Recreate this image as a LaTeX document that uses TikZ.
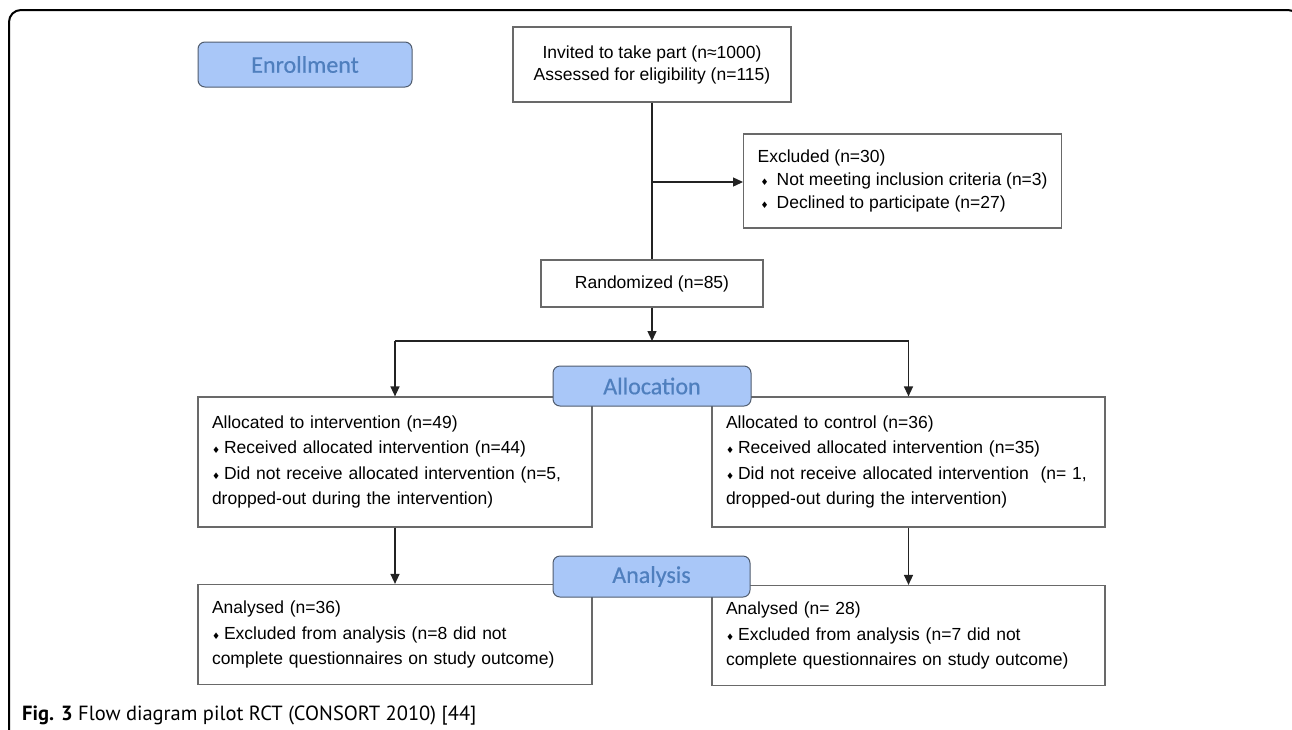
\documentclass[tikz,border=0pt]{standalone}
\usepackage{fontspec}
\setmainfont{Liberation Sans}
\newfontfamily\stagefont[FakeBold=0.6]{Carlito}
\newfontfamily\capfont{PT Sans}
\newfontfamily\symfont{DejaVu Sans}
\usetikzlibrary{arrows.meta}
\definecolor{stagefill}{RGB}{169,199,248}
\definecolor{stageedge}{RGB}{80,92,110}
\definecolor{stagetext}{RGB}{79,127,190}
\definecolor{boxedge}{RGB}{105,105,105}
\definecolor{lineclr}{RGB}{35,35,35}
\newcommand{\bul}{{\symfont\fontsize{9}{9}\selectfont ♦}\hspace{4pt}}
\tikzset{
  box/.style={draw=boxedge, line width=1.2pt, fill=white, rectangle, inner xsep=14pt, inner ysep=0pt,
    font=\fontsize{17.5}{25.5}\selectfont, align=left},
  stage/.style={draw=stageedge, line width=1pt, fill=stagefill, rounded corners=7pt,
    font=\stagefont\fontsize{24}{24}\selectfont, text=stagetext, inner sep=0pt},
  conn/.style={draw=lineclr, line width=1.4pt},
  arr/.style={conn, -{Triangle[length=10pt,width=9pt]}}
}
\begin{document}
\begin{tikzpicture}[x=1pt,y=-1pt]
\useasboundingbox (0,0) rectangle (1292,729);
\clip (0,0) rectangle (1292,729);
% frame
\draw[black, line width=2pt, rounded corners=12pt] (9,760) -- (9,10) -- (1300,10) -- (1300,760);

% boxes
\node[box, align=center, minimum width=278, minimum height=75, font=\fontsize{17.5}{22}\selectfont]
  (inv) at (652,64.5) {Invited to take part (n≈1000)\\Assessed for eligibility (n=115)};
\node[box, anchor=west, minimum height=94, font=\fontsize{17.5}{23}\selectfont]
  (excl) at (743,181) {Excluded (n=30)\\
  \hspace*{3pt}{\symfont\fontsize{9}{9}\selectfont ♦}\hspace{8pt}Not meeting inclusion criteria (n=3)\\
  \hspace*{3pt}{\symfont\fontsize{9}{9}\selectfont ♦}\hspace{8pt}Declined to participate (n=27)};
\node[box, align=center, minimum width=222, minimum height=47] (rand) at (652,283.5) {Randomized (n=85)};
\node[box, minimum width=394, minimum height=130, text width=366] (alc1) at (395,462)
  {Allocated to intervention (n=49)\\
  \bul Received allocated intervention (n=44)\\
  \bul Did not receive allocated intervention (n=5,\\
  dropped-out during the intervention)};
\node[box, minimum width=393, minimum height=130, text width=365] (alc2) at (908.5,462)
  {Allocated to control (n=36)\\
  \bul Received allocated intervention (n=35)\\
  \bul Did not receive allocated intervention \ (n= 1,\\
  dropped-out during the intervention)};
\node[box, minimum width=394, minimum height=100, text width=366] (an1) at (395,634.5)
  {Analysed (n=36)\\
  \bul Excluded from analysis (n=8 did not\\
  complete questionnaires on study outcome)};
\node[box, minimum width=393, minimum height=100, text width=365] (an2) at (908.5,635.5)
  {Analysed (n= 28)\\
  \bul Excluded from analysis (n=7 did not\\
  complete questionnaires on study outcome)};

% connectors
\coordinate (br) at (652,182);
\coordinate (split) at (652,341);
\draw[conn] (inv.south) -- (rand.north);
\draw[arr] (br) -- (br -| excl.west);
\draw[arr] (rand.south) -- (split);
\draw[conn] (alc1.north |- split) -- (alc2.north |- split);
\draw[arr] (alc1.north |- split) -- (alc1.north);
\draw[arr] (alc2.north |- split) -- (alc2.north);
\draw[arr] (alc1.south) -- (an1.north);
\draw[arr] (alc2.south) -- (an2.north);

% stage labels
\node[stage, minimum width=214, minimum height=45] (enr) at (305,64.5) {Enrollment};
\node[stage, minimum width=198, minimum height=40] (allo) at (652,386) {Allocation};
\node[stage, minimum width=197, minimum height=41] (anal) at (651.5,576.5) {Analysis};

% caption
\node[anchor=base west, inner sep=0pt, font=\capfont\fontsize{20.5}{21}\selectfont] (cap) at (22,720)
  {\textbf{Fig. 3} Flow diagram pilot RCT (CONSORT 2010) [44]};
\end{tikzpicture}
\end{document}
